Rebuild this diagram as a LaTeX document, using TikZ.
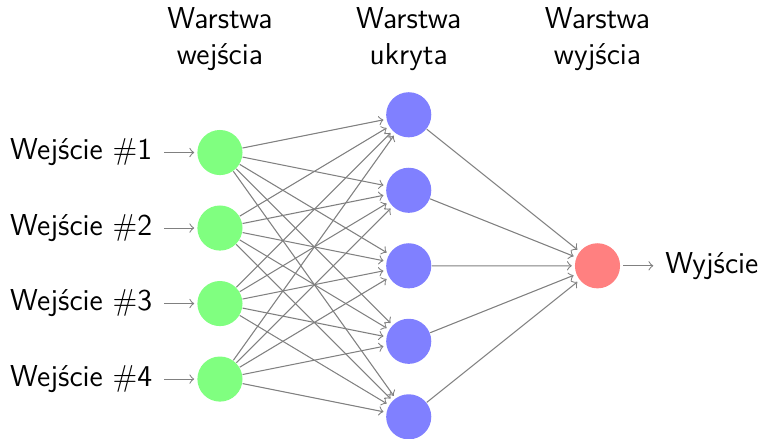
\documentclass[tikz,border=0pt]{standalone}
\usepackage{fontspec}
\renewcommand{\familydefault}{\sfdefault}
\begin{document}
\def\layersep{2.5cm}
\begin{tikzpicture}[shorten >=1pt,->,draw=black!50,node distance=\layersep,font=\fontsize{11.4}{13.8}\selectfont\sffamily]
  \tikzset{
    every pin edge/.style={<-,shorten <=1pt,draw=black!50},
    neuron/.style={circle,fill=black!25,minimum size=17pt,inner sep=0pt},
    input neuron/.style={neuron,fill=green!50},
    output neuron/.style={neuron,fill=red!50},
    hidden neuron/.style={neuron,fill=blue!50},
    annot/.style={text width=5em,text centered}
  }
  \useasboundingbox (-2.913,1.02) rectangle (7.258,-4.781);

  % input layer
  \foreach \y in {1,...,4}
    \node[input neuron,pin=left:Wejście \#\y] (I-\y) at (0,-\y) {};

  % hidden layer
  \foreach \y in {1,...,5}
    \node[hidden neuron] (H-\y) at (\layersep,-\y cm+0.5cm) {};

  % output layer
  \node[output neuron,pin={[pin edge={->}]right:Wyjście}] (O) at (2*\layersep,-2.5) {};

  % connections
  \foreach \s in {1,...,4}
    \foreach \d in {1,...,5}
      \path (I-\s) edge (H-\d);
  \foreach \s in {1,...,5}
    \path (H-\s) edge (O);

  % layer captions
  \node[annot] (hl) at (\layersep,0.5) {Warstwa ukryta};
  \node[annot] (il) at (0,0.5) {Warstwa wejścia};
  \node[annot] (ol) at (2*\layersep,0.5) {Warstwa wyjścia};
\end{tikzpicture}
\end{document}
